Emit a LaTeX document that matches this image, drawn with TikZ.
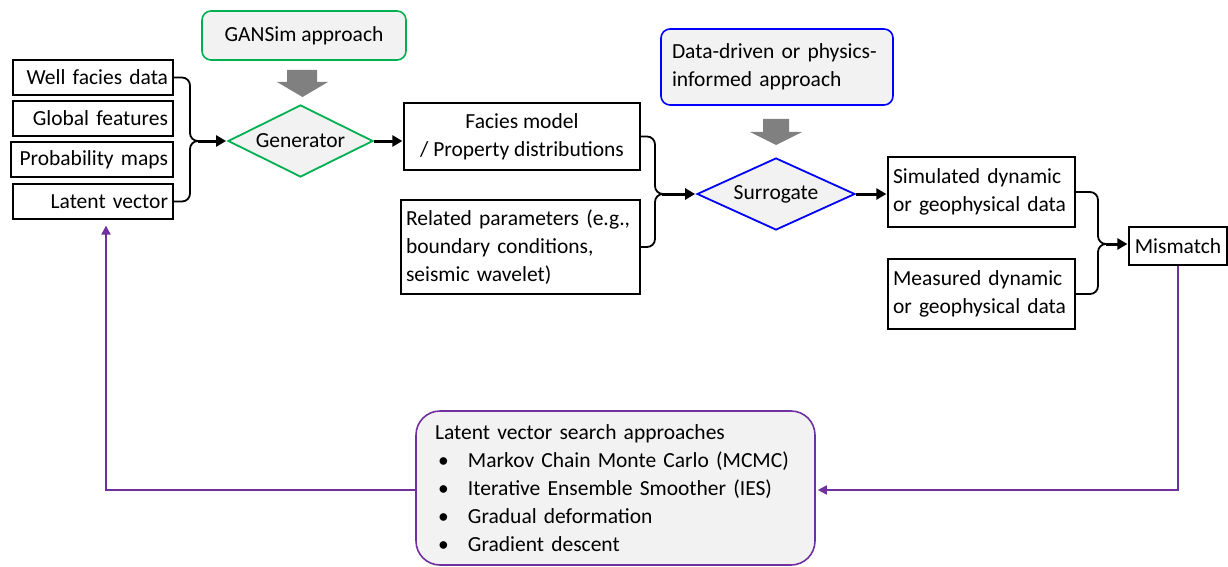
\documentclass[tikz,border=0pt]{standalone}
\usepackage{fontspec}
\setmainfont{Carlito}
\usetikzlibrary{shapes.geometric,arrows.meta}
\definecolor{grn}{RGB}{0,176,80}
\definecolor{blu}{RGB}{0,0,255}
\definecolor{pur}{RGB}{112,48,160}
\definecolor{lgray}{RGB}{242,242,242}
\definecolor{dgray}{RGB}{128,128,128}
\begin{document}
\begin{tikzpicture}[x=1pt,y=-1pt,
  every node/.style={font=\fontsize{21.5}{28}\selectfont},
  box/.style={draw=black, line width=1.2pt, inner xsep=5pt, inner ysep=0pt},
  inbox/.style={box, minimum width=160pt, minimum height=35pt, text width=150pt, align=right, inner xsep=5pt},
  approach/.style={rounded corners=9pt, fill=lgray, line width=1.6pt, inner ysep=0pt},
  dia/.style={diamond, fill=lgray, line width=1.8pt, aspect=2, inner sep=0pt},
  flow/.style={line width=3pt, -{Triangle[length=10pt,width=11pt]}, shorten >=1pt},
  brace/.style={line width=1.8pt, rounded corners=8pt},
  fb/.style={draw=pur, line width=1.8pt, -{Triangle[length=9pt,width=9pt]}},
  blockarrow/.style={fill=dgray, draw=none}]
\useasboundingbox (0,0) rectangle (1228,567);

% left inputs
\node[inbox] (well) at (93,77.5) {Well facies data};
\node[inbox] (glob) at (93,118.5) {Global features};
\node[inbox, minimum width=162pt, text width=152pt] (prob) at (92,159.5) {Probability maps};
\node[inbox] (lat) at (93,201.5) {Latent vector};

% GANSim
\node[approach, draw=grn, minimum width=204pt, minimum height=49pt] (gans) at (304,35.5) {GANSim approach};
\fill[blockarrow] (287,70) -- (317,70) -- (317,82) -- (328,82) -- (302.5,97) -- (277,82) -- (287,82) -- cycle;
\node[dia, draw=grn, minimum width=145pt, minimum height=72pt] (gen) at (300.5,141) {Generator};

% braces into generator
\coordinate (lb) at (198,141);
\draw[brace] (well.east) -- (190,77.5) -- (190,141) -- (lb);
\draw[brace] (lat.east) -- (190,201.5) -- (190,141) -- (lb);
\draw[flow] (lb) -- (gen.west);

% facies + related
\node[box, minimum width=236pt, minimum height=67pt, align=center] (fac) at (522,136.5) {Facies model\\/ Property distributions};
\draw[flow] (gen.east) -- (gen.east -| fac.west);
\node[box, minimum width=239pt, minimum height=94pt, text width=229pt, align=left] (rel) at (520.5,247) {Related parameters (e.g.,\\boundary conditions,\\seismic wavelet)};

% data-driven
\node[approach, draw=blu, minimum width=232pt, minimum height=76pt, text width=210pt, inner xsep=11pt, align=left] (dd) at (777,67) {Data-driven or physics-\\informed approach};
\fill[blockarrow] (763,119) -- (789,119) -- (789,132) -- (802,132) -- (776,145) -- (750,132) -- (763,132) -- cycle;
\node[dia, draw=blu, minimum width=158pt, minimum height=72pt] (sur) at (776,194) {Surrogate};

\coordinate (mb) at (662,194);
\draw[brace] (fac.east) -- (655,136.5) -- (655,194) -- (mb);
\draw[brace] (rel.east) -- (655,247) -- (655,194) -- (mb);
\draw[flow] (mb) -- (sur.west);

% simulated / measured
\node[box, minimum width=187pt, minimum height=70pt, text width=177pt, align=left] (sim) at (981.5,192) {Simulated dynamic\\or geophysical data};
\node[box, minimum width=187pt, minimum height=70pt, text width=177pt, align=left] (mea) at (981.5,294) {Measured dynamic\\or geophysical data};
\draw[flow] (sur.east) -- (sur.east -| sim.west);
\node[box, minimum width=98pt, minimum height=38pt, inner xsep=3pt] (mis) at (1178,246) {Mismatch};

\coordinate (rb) at (1106,244);
\draw[brace] (sim.east) -- (1098,192) -- (1098,244) -- (rb);
\draw[brace] (mea.east) -- (1098,294) -- (1098,244) -- (rb);
\draw[flow] (rb) -- (rb -| mis.west);

% latent search
\node[approach, draw=pur, rounded corners=24pt, minimum width=399pt, minimum height=154pt, text width=361pt, inner xsep=19pt, align=left] (ls) at (615.5,488) {Latent vector search approaches\\
\makebox[33pt][l]{\hspace{3pt}•}Markov Chain Monte Carlo (MCMC)\\
\makebox[33pt][l]{\hspace{3pt}•}Iterative Ensemble Smoother (IES)\\
\makebox[33pt][l]{\hspace{3pt}•}Gradual deformation\\
\makebox[33pt][l]{\hspace{3pt}•}Gradient descent};

\coordinate (c1) at (1178,490);
\coordinate (c2) at (106,490);
\draw[fb, shorten >=2pt] (mis.south) -- (c1) -- (ls.east |- c1);
\draw[fb, shorten >=6pt] (ls.west |- c2) -- (c2) -- (lat.south -| c2);
\end{tikzpicture}
\end{document}
